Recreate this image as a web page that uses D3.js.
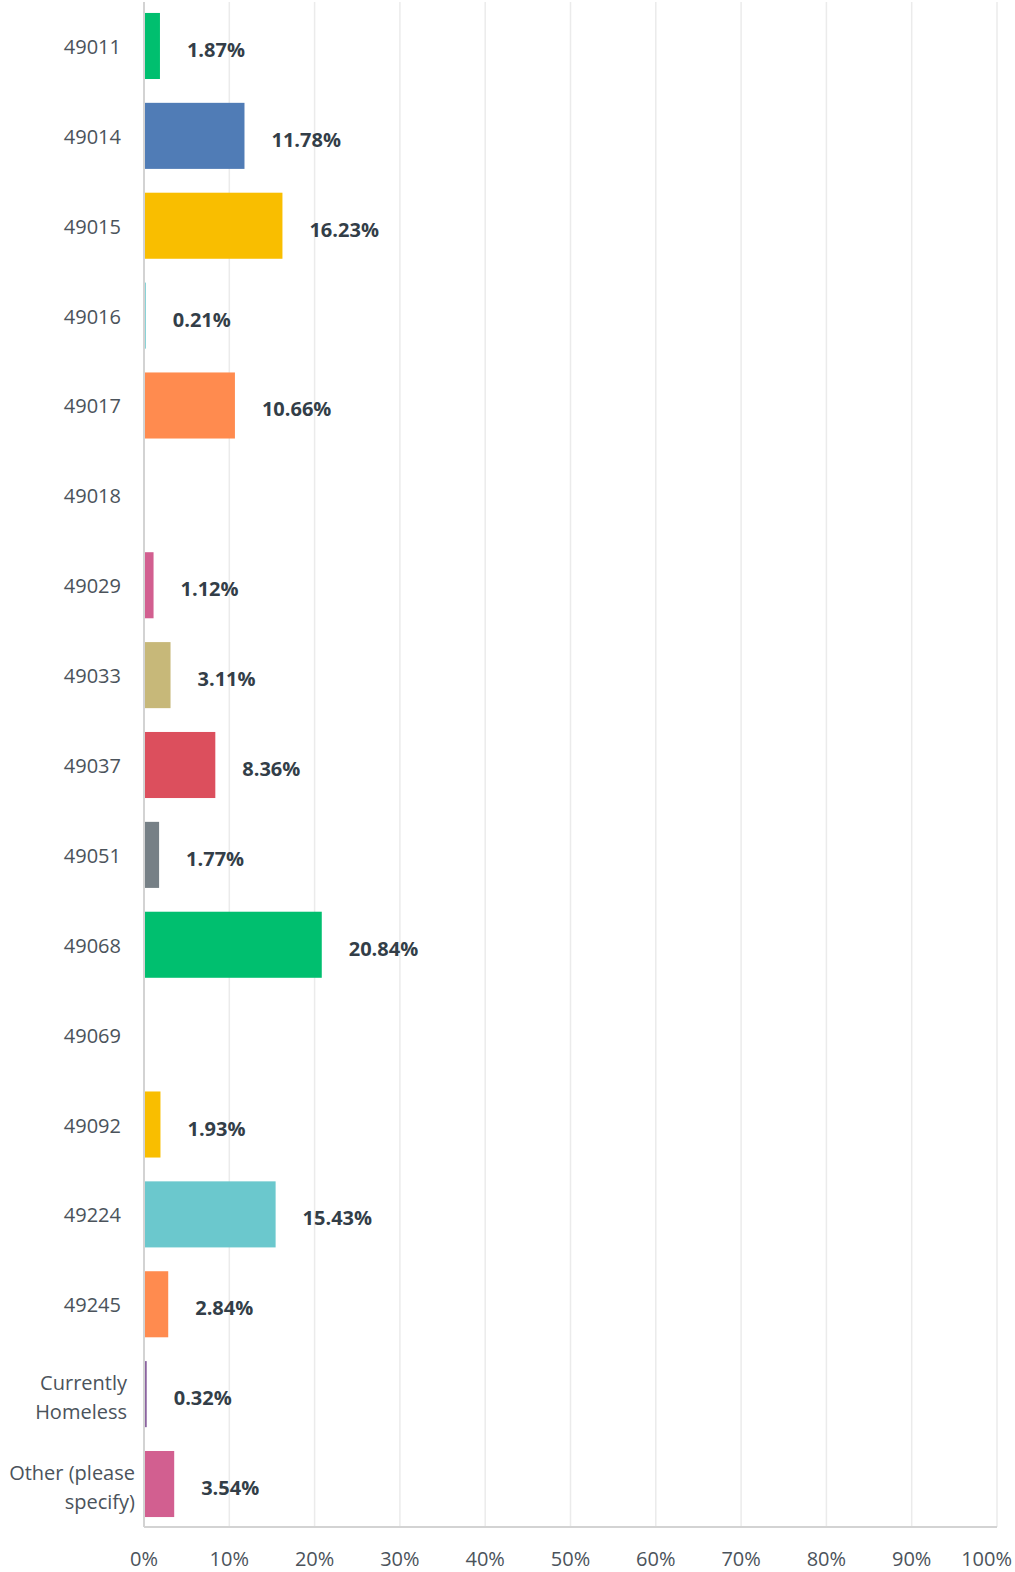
<!DOCTYPE html>
<html>
<head>
<meta charset="utf-8">
<script src="https://cdn.jsdelivr.net/npm/d3@7"></script>
<style>
  body { margin: 0; background: #fff; }
  text { font-family: "Open Sans", sans-serif; }
</style>
</head>
<body>
<div id="chart"></div>
<script>
// answer choices and the share of responses (%)
var categories = ["49011", "49014", "49015", "49016", "49017", "49018", "49029", "49033",
  "49037", "49051", "49068", "49069", "49092", "49224", "49245",
  "Currently Homeless", "Other (please specify)"];
var values = [1.87, 11.78, 16.23, 0.21, 10.66, 0, 1.12, 3.11, 8.36, 1.77, 20.84, 0, 1.93, 15.43, 2.84, 0.32, 3.54];
var valueLabels = ["1.87%", "11.78%", "16.23%", "0.21%", "10.66%", "", "1.12%", "3.11%", "8.36%",
  "1.77%", "20.84%", "", "1.93%", "15.43%", "2.84%", "0.32%", "3.54%"];
var barColors = ["#00bf6f", "#507cb6", "#f9be00", "#6bc8cd", "#ff8b4f", "#7f7fff", "#d25f90", "#c7b879",
  "#dc4f5d", "#768086", "#00bf6f", "#507cb6", "#f9be00", "#6bc8cd", "#ff8b4f", "#8b63a0", "#d25f90"];
var ticks = [0, 10, 20, 30, 40, 50, 60, 70, 80, 90, 100];

var width = 1015, height = 1572;
var plotLeft = 144, plotRight = 997, plotTop = 1, plotBottom = 1527;

var svg = d3.select("#chart").append("svg")
  .attr("width", width)
  .attr("height", height);

var x = d3.scaleLinear().domain([0, 100]).range([plotLeft, plotRight]);
var y = d3.scaleBand().domain(categories).range([plotTop, plotBottom + 2]).paddingInner(0.265).paddingOuter(0.133);

// vertical grid lines
svg.append("g").selectAll("line")
  .data(ticks.slice(1))
  .enter().append("line")
  .attr("x1", function(d) { return x(d); })
  .attr("x2", function(d) { return x(d); })
  .attr("y1", 2)
  .attr("y2", plotBottom)
  .attr("stroke", "#ebebeb")
  .attr("stroke-width", 1.5);

// bars
svg.append("g").selectAll("rect")
  .data(values)
  .enter().append("rect")
  .attr("x", x(0))
  .attr("y", function(d, i) { return y(categories[i]); })
  .attr("width", function(d) { return x(d) - x(0); })
  .attr("height", y.bandwidth())
  .attr("fill", function(d, i) { return barColors[i]; });

// y axis line + bottom axis line
svg.append("line")
  .attr("x1", x(0)).attr("x2", x(0))
  .attr("y1", 2).attr("y2", plotBottom)
  .attr("stroke", "#d3d3d3").attr("stroke-width", 2);
svg.append("line")
  .attr("x1", x(0)).attr("x2", x(100))
  .attr("y1", plotBottom).attr("y2", plotBottom)
  .attr("stroke", "#d3d3d3").attr("stroke-width", 2);

// category labels (wrap the long ones)
var catG = svg.append("g").selectAll("text")
  .data(categories)
  .enter().append("text")
  .attr("text-anchor", "end")
  .attr("fill", "#4b535b")
  .style("font-size", "20px")
  .attr("transform", function(d) {
    var cx = d.length > 6 ? (d.indexOf("Other") === 0 ? 135 : 127) : 121;
    return "translate(" + cx + "," + (y(d) + y.bandwidth() / 2 + 1) + ")";
  });

catG.each(function(d) {
  var t = d3.select(this);
  var lines = d === "Currently Homeless" ? ["Currently", "Homeless"]
    : d === "Other (please specify)" ? ["Other (please", "specify)"] : [d];
  lines.forEach(function(l, k) {
    t.append("tspan")
      .attr("x", 0)
      .attr("y", (k - (lines.length - 1) / 2) * 29 + (lines.length > 1 ? 2 : 0))
      .attr("dy", "0.35em")
      .text(l);
  });
});

// value labels
svg.append("g").selectAll("text")
  .data(values)
  .enter().append("text")
  .attr("x", function(d) { return x(d) + 27; })
  .attr("y", function(d, i) { return y(categories[i]) + y.bandwidth() / 2 + 4; })
  .attr("dy", "0.35em")
  .attr("fill", "#333e48")
  .style("font-size", "20px")
  .style("font-weight", "bold")
  .text(function(d, i) { return valueLabels[i]; });

// x axis tick labels (last one kept inside the page)
svg.append("g").selectAll("text")
  .data(ticks)
  .enter().append("text")
  .attr("x", function(d) { return d === 100 ? width - 3 : x(d); })
  .attr("y", 1559)
  .attr("dy", "0.35em")
  .attr("text-anchor", function(d) { return d === 100 ? "end" : "middle"; })
  .attr("fill", "#4b535b")
  .style("font-size", "20px")
  .text(function(d) { return d + "%"; });
</script>
</body>
</html>
